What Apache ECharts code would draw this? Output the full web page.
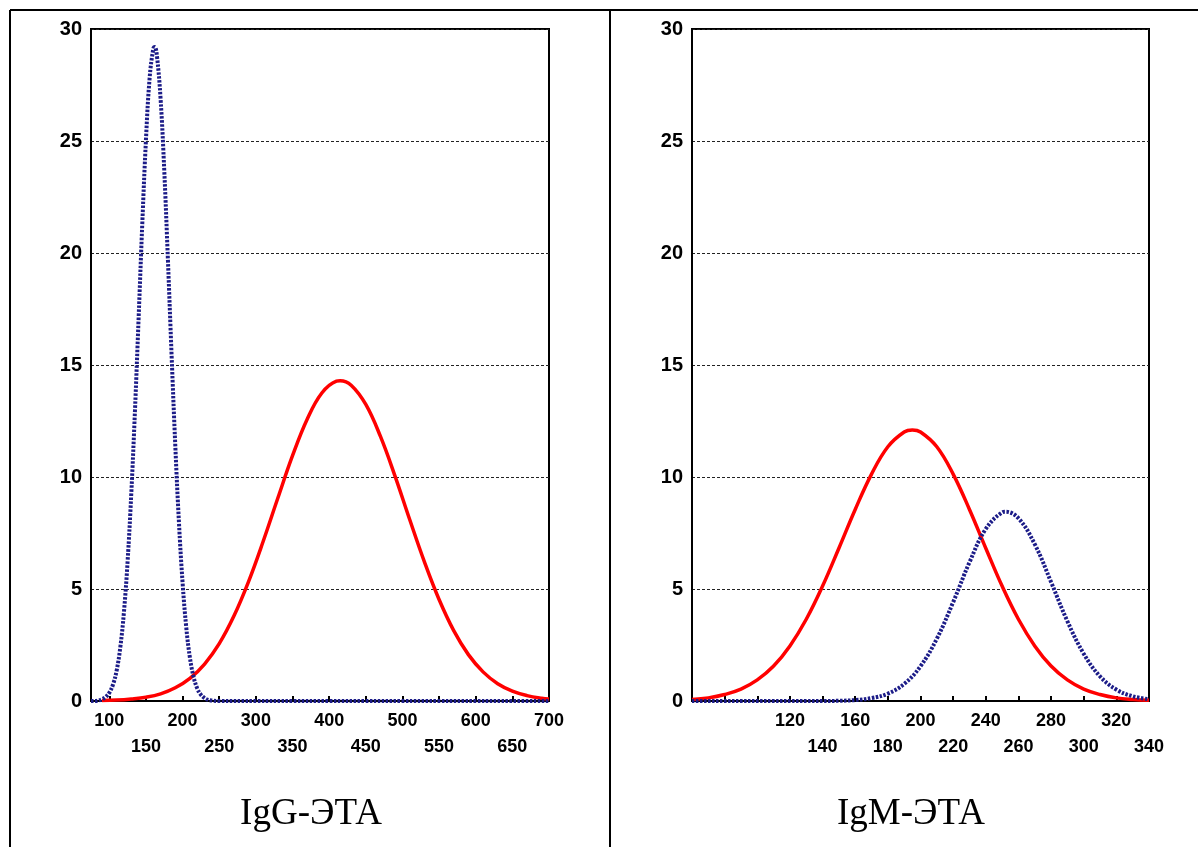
<!DOCTYPE html>
<html>
<head>
<meta charset="utf-8">
<script src="https://cdn.jsdelivr.net/npm/echarts@6/dist/echarts.min.js"></script>
<style>
html,body{margin:0;padding:0;background:#fff;}
#chart{width:1198px;height:847px;}
</style>
</head>
<body>
<div id="chart"></div>
<script>
// ---- Left panel: IgG-ЭТА ----
const iggTitle = 'IgG-ЭТА';
const iggRedX = [90,110,130,150,170,190,210,230,250,270,290,310,330,350,370,390,410,415,430,450,470,490,510,530,550,570,590,610,630,650,670,690,700];
const iggRedY = [0.02,0.04,0.09,0.17,0.32,0.59,1.01,1.65,2.56,3.79,5.33,7.13,9.06,10.95,12.58,13.75,14.28,14.3,14.10,13.24,11.81,10.03,8.09,6.21,4.53,3.14,2.07,1.30,0.77,0.44,0.24,0.12,0.09];
const iggBlueX = [75,80,85,90,95,100,105,110,115,120,125,130,135,140,145,150,155,160,162,165,170,175,180,185,190,195,200,205,210,215,220,225,230,235,240,250,300,350,400,450,500,550,600,650,700];
const iggBlueY = [0,0,0.02,0.08,0.18,0.37,0.73,1.36,2.40,3.99,6.26,9.28,12.97,17.11,21.32,25.06,27.81,29.12,29.2,28.79,26.86,23.66,19.66,15.42,11.42,7.98,5.27,3.28,1.93,1.07,0.56,0.28,0.13,0.05,0.02,0,0,0,0,0,0,0,0,0,0];
const iggTicks = [100,150,200,250,300,350,400,450,500,550,600,650,700];
const iggLabelsRow2 = [150,250,350,450,550,650];

// ---- Right panel: IgM-ЭТА ----
const igmTitle = 'IgM-ЭТА';
const igmRedX = [60,70,80,90,100,110,120,130,140,150,160,170,180,190,195,200,210,220,230,240,250,260,270,280,290,300,310,320,330,340];
const igmRedY = [0.07,0.14,0.29,0.53,0.94,1.56,2.46,3.65,5.13,6.82,8.55,10.13,11.35,12.01,12.1,12.01,11.35,10.13,8.55,6.82,5.13,3.65,2.46,1.56,0.94,0.53,0.29,0.14,0.07,0.03];
const igmBlueX = [60,70,80,90,100,110,120,130,140,150,160,170,180,190,200,210,220,230,240,250,252,260,270,280,290,300,310,320,330,340];
const igmBlueY = [0,0,0,0,0,0,0,0,0,0.01,0.04,0.13,0.33,0.76,1.55,2.78,4.41,6.19,7.68,8.42,8.45,8.16,7.00,5.31,3.56,2.11,1.10,0.51,0.21,0.08];
const igmTicks = [80,100,120,140,160,180,200,220,240,260,280,300,320,340];
const igmLabels = [120,140,160,180,200,220,240,260,280,300,320,340];
const igmLabelsRow2 = [140,180,220,260,300,340];

function pairs(xs, ys){ return xs.map((x,i)=>[x, ys[i]]); }

const RED = '#ff0000';
const BLUE = '#1c1c88';
const FONT = 'Liberation Sans';

function xAxisDef(gridIndex, min, max, ticks, labels, row2){
  return {
    type:'value', gridIndex, min, max,
    axisLine:{show:true, onZero:false, lineStyle:{color:'#000', width:2}},
    axisTick:{show:true, inside:true, length:5, customValues:ticks, lineStyle:{color:'#000', width:2}},
    axisLabel:{
      customValues:labels, margin:7, color:'#000', fontFamily:FONT, fontWeight:'bold', fontSize:18, lineHeight:26,
      formatter:(v)=> row2.indexOf(v) >= 0 ? '\n' + v : String(v)
    },
    splitLine:{show:false}
  };
}
function yAxisDef(gridIndex){
  return {
    type:'value', gridIndex, min:0, max:30, interval:5,
    axisLine:{show:true, lineStyle:{color:'#000', width:2}},
    axisTick:{show:false},
    axisLabel:{margin:9, color:'#000', fontFamily:FONT, fontWeight:'bold', fontSize:20},
    splitLine:{show:true, lineStyle:{color:'#222', width:1, type:[3,2]}}
  };
}

const chart = echarts.init(document.getElementById('chart'), null, {renderer:'canvas'});
chart.setOption({
  animation:false,
  backgroundColor:'#fff',
  grid:[
    {left:91, top:29, width:458, height:672, show:true, borderColor:'#000', borderWidth:2, backgroundColor:'#fff'},
    {left:692, top:29, width:457, height:672, show:true, borderColor:'#000', borderWidth:2, backgroundColor:'#fff'}
  ],
  xAxis:[
    xAxisDef(0, 75, 700, iggTicks, iggTicks, iggLabelsRow2),
    xAxisDef(1, 60, 340, igmTicks, igmLabels, igmLabelsRow2)
  ],
  yAxis:[yAxisDef(0), yAxisDef(1)],
  series:[
    {type:'line', xAxisIndex:0, yAxisIndex:0, data:pairs(iggRedX, iggRedY), smooth:0.4, showSymbol:false,
     lineStyle:{color:RED, width:3.5}, z:3},
    {type:'line', xAxisIndex:0, yAxisIndex:0, data:pairs(iggBlueX, iggBlueY), smooth:0.4, showSymbol:false,
     lineStyle:{color:BLUE, width:4, type:[2.5,1.5]}, z:4},
    {type:'line', xAxisIndex:1, yAxisIndex:1, data:pairs(igmRedX, igmRedY), smooth:0.4, showSymbol:false,
     lineStyle:{color:RED, width:3.5}, z:3},
    {type:'line', xAxisIndex:1, yAxisIndex:1, data:pairs(igmBlueX, igmBlueY), smooth:0.4, showSymbol:false,
     lineStyle:{color:BLUE, width:4, type:[2.5,1.5]}, z:4}
  ],
  graphic:[
    {type:'line', shape:{x1:10, y1:10, x2:1198, y2:10}, style:{stroke:'#000', lineWidth:2}},
    {type:'line', shape:{x1:10, y1:10, x2:10, y2:847}, style:{stroke:'#000', lineWidth:2}},
    {type:'line', shape:{x1:610, y1:10, x2:610, y2:847}, style:{stroke:'#000', lineWidth:2}},
    {type:'text', x:311, y:814, style:{text:iggTitle, fontFamily:'Liberation Serif', fontSize:37, fill:'#000', align:'center', verticalAlign:'middle'}},
    {type:'text', x:911, y:814, style:{text:igmTitle, fontFamily:'Liberation Serif', fontSize:37, fill:'#000', align:'center', verticalAlign:'middle'}}
  ]
});
</script>
</body>
</html>
